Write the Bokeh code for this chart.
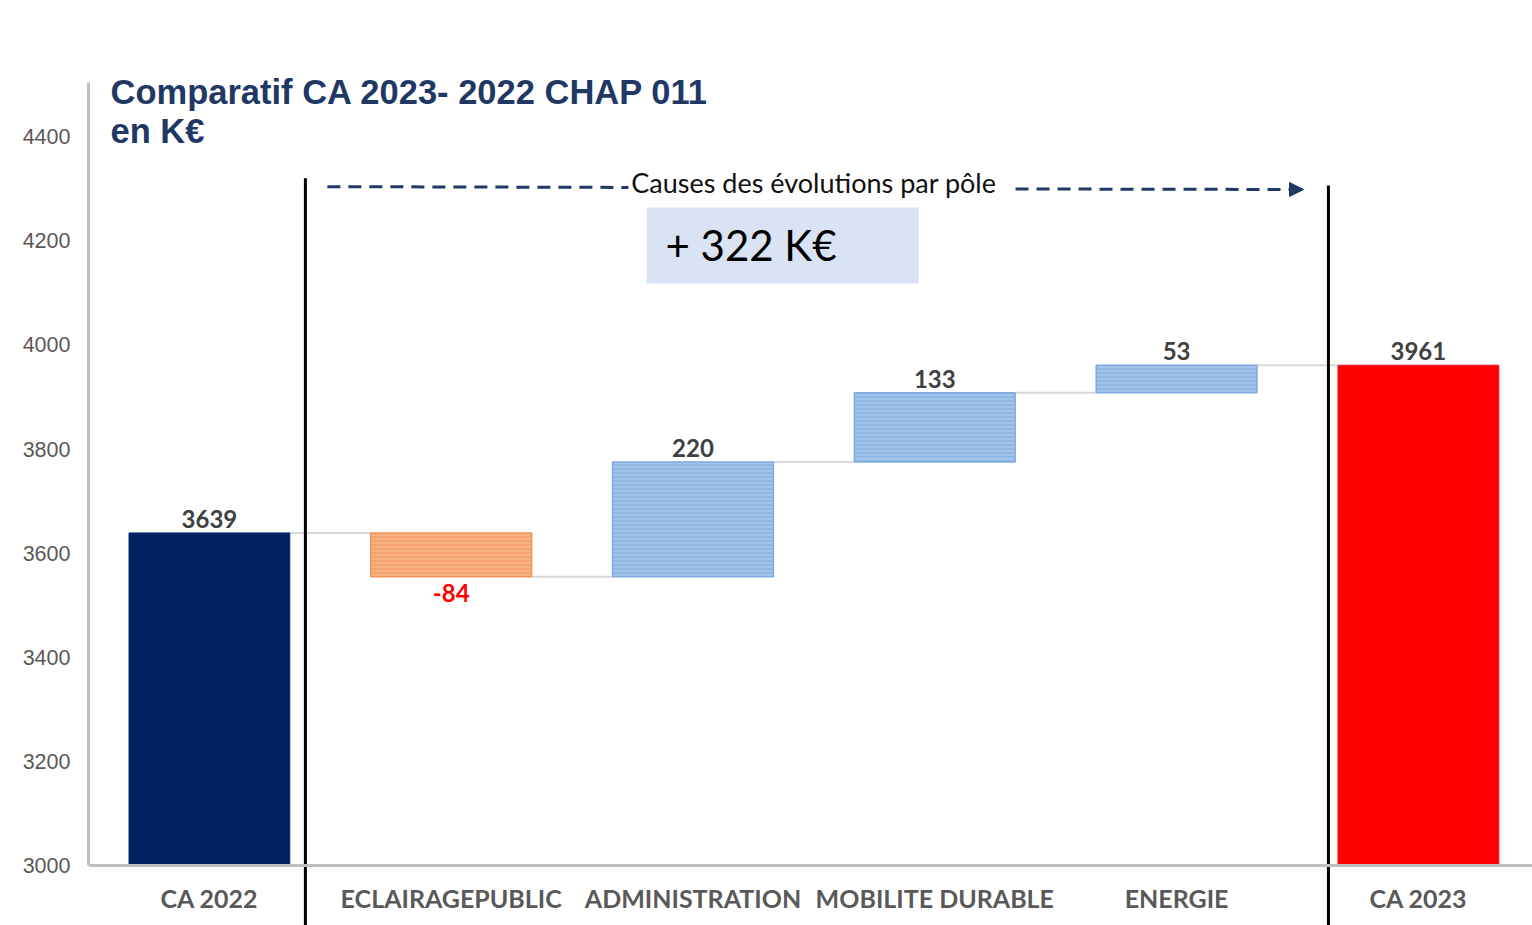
from bokeh.plotting import figure
from bokeh.models import (Range1d, LinearAxis, FixedTicker, Label, BoxAnnotation,
                          Arrow, NormalHead, Span)
from bokeh.core.properties import value
from bokeh.embed import file_html
from bokeh.resources import INLINE

# ---------------- data ----------------
categories = ["CA 2022", "ECLAIRAGEPUBLIC", "ADMINISTRATION", "MOBILITE DURABLE", "ENERGIE", "CA 2023"]
start_total = 3639
deltas = [-84, 220, 133, 53]
end_total = 3961
y_ticks = [3000, 3200, 3400, 3600, 3800, 4000, 4200, 4400]
title_lines = ["Comparatif CA 2023- 2022 CHAP 011", "en K€"]
arrow_text = "Causes des évolutions par pôle"

# ---------------- derived ----------------
base = y_ticks[0]
idx = list(range(len(categories)))
bottoms, tops, levels = [base], [start_total], [start_total]
running = start_total
for d in deltas:
    bottoms.append(min(running, running + d))
    tops.append(max(running, running + d))
    running += d
    levels.append(running)
bottoms.append(base)
tops.append(end_total)
total_change = sum(deltas)

bar_w = 0.665
NAVY = "#1f3864"
AXIS_TOP = 4504
Y_TOP = 4546.25
Y_BOT = 2885

p = figure(width=1532, height=925,
           x_range=Range1d(-0.5, 5.472), y_range=Range1d(Y_BOT, Y_TOP),
           output_backend="svg", toolbar_location=None,
           x_axis_type=None, y_axis_type=None,
           min_border_left=88, min_border_right=0, min_border_top=60, min_border_bottom=0)
p.outline_line_color = None
p.background_fill_color = "white"
p.border_fill_color = "white"

yaxis = LinearAxis(ticker=FixedTicker(ticks=y_ticks), bounds=(base, AXIS_TOP))
yaxis.axis_line_color = "#bfbfbf"
yaxis.axis_line_width = 3
yaxis.major_tick_line_color = None
yaxis.minor_tick_line_color = None
yaxis.major_tick_out = 0
yaxis.major_label_standoff = 18
yaxis.major_label_text_font = "Liberation Sans"
yaxis.major_label_text_font_size = "21.5px"
yaxis.major_label_text_color = "#595959"
p.add_layout(yaxis, "left")

# connectors
cx0 = [i + bar_w / 2 for i in idx[:-1]]
cx1 = [i + 1 - bar_w / 2 for i in idx[:-1]]
p.segment(x0=cx0, x1=cx1, y0=levels, y1=levels, line_color="#d9d9d9", line_width=2)

# total bars
p.vbar(x=[idx[0]], bottom=[bottoms[0]], top=[tops[0]], width=bar_w,
       fill_color="#002060", line_color="#0d2d6e", line_width=1)
p.vbar(x=[idx[-1]], bottom=[bottoms[-1]], top=[tops[-1]], width=bar_w,
       fill_color="#ff0000", line_color="#f01010", line_width=1)

# delta bars
for i, d in enumerate(deltas, start=1):
    if d < 0:
        fc, hc, lc = "#f4a46c", "#f8c29c", "#ee9456"
    else:
        fc, hc, lc = "#8fb7e5", "#b6d1f1", "#7faadd"
    p.vbar(x=[i], bottom=[bottoms[i]], top=[tops[i]], width=bar_w,
           fill_color=fc, line_color=lc, line_width=1.5,
           hatch_pattern="horizontal_line", hatch_color=hc, hatch_scale=4, hatch_weight=1)

# value labels
pos_x = [0] + [i for i, d in enumerate(deltas, start=1) if d >= 0] + [5]
pos_y = [tops[0]] + [tops[i] for i, d in enumerate(deltas, start=1) if d >= 0] + [tops[-1]]
pos_t = [str(start_total)] + [str(d) for d in deltas if d >= 0] + [str(end_total)]
p.text(x=pos_x, y=pos_y, text=pos_t, text_align="center", text_baseline="alphabetic",
       y_offset=-14, text_font=value("Lato"), text_font_style="bold",
       text_font_size="24px", text_color="#404040")
neg_x = [i for i, d in enumerate(deltas, start=1) if d < 0]
neg_y = [bottoms[i] for i in neg_x]
neg_t = [str(d) for d in deltas if d < 0]
p.text(x=neg_x, y=neg_y, text=neg_t, text_align="center", text_baseline="alphabetic",
       y_offset=16, text_font=value("Lato"), text_font_style="bold",
       text_font_size="24px", text_color="#ff0000")

# x axis line
p.add_layout(Span(location=base, dimension="width", line_color="#bfbfbf", line_width=3))

# category labels
p.text(x=idx, y=[base - 63] * len(idx), text=categories, text_align="center",
       text_baseline="middle", text_font=value("Lato"),
       text_font_style="bold", text_font_size="25px", text_color="#595959")

# separators
p.segment(x0=[0.397, 4.628], x1=[0.397, 4.628], y0=[4320, 4306], y1=[Y_BOT, Y_BOT],
          line_color="black", line_width=3)

# dashed arrow + text
p.segment(x0=[0.488], x1=[1.733], y0=[4304], y1=[4302.5], line_color=NAVY,
          line_width=3, line_dash="13 8")
p.add_layout(Arrow(x_start=3.334, x_end=4.525, y_start=4299.5, y_end=4298.5,
                   line_color=NAVY, line_width=3, line_dash="13 8",
                   end=NormalHead(size=14, fill_color=NAVY, line_color=NAVY)))
p.add_layout(Label(x=2.5, y=4311, text=arrow_text, text_align="center",
                   text_baseline="middle", text_font="Lato",
                   text_font_size="27px", text_color="#111111"))

# total box
p.add_layout(BoxAnnotation(left=1.808, right=2.933, bottom=4118, top=4264,
                           fill_color="#dae3f3", fill_alpha=1, line_color=None))
p.add_layout(Label(x=1.886, y=4192, text=f"+ {total_change} K€", text_align="left",
                   text_baseline="middle", text_font="Lato",
                   text_font_size="42px", text_color="#000000"))

# title
p.add_layout(Label(x=-0.409, y=4485, text=title_lines[0], text_align="left",
                   text_baseline="alphabetic", text_font="Liberation Sans",
                   text_font_style="bold", text_font_size="34.5px", text_color=NAVY))
p.add_layout(Label(x=-0.409, y=4410, text=title_lines[1], text_align="left",
                   text_baseline="alphabetic", text_font="Liberation Sans",
                   text_font_style="bold", text_font_size="34.5px", text_color=NAVY))

open("out.html", "w").write(file_html(p, INLINE))
